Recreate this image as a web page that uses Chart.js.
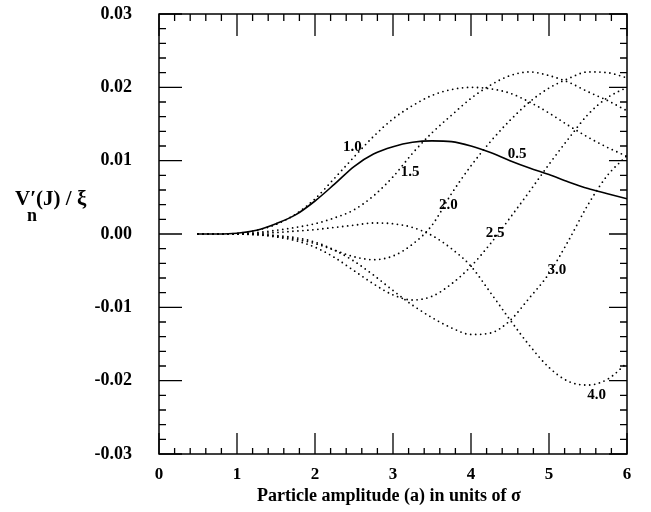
<!DOCTYPE html>
<html>
<head>
<meta charset="utf-8">
<script src="https://cdn.jsdelivr.net/npm/chart.js@4.4.1/dist/chart.umd.min.js"></script>
<style>
  html, body { margin: 0; padding: 0; background: #fff; }
  #graphique { display: block; }
</style>
</head>
<body>
<canvas id="graphique" width="651" height="512"></canvas>
<script>
// Amplitude (en sigma)
const amplitudes = [0.5, 0.75, 1, 1.25, 1.5, 1.75, 2, 2.25, 2.5, 2.75, 3, 3.25, 3.5, 3.75, 4, 4.25, 4.5, 4.75, 5, 5.25, 5.5, 5.75, 6];

// Courbes
const courbe05 = [0, 0, 0.0001, 0.0005, 0.0014, 0.0026, 0.0045, 0.0068, 0.0092, 0.0109, 0.0119, 0.0125, 0.0127, 0.0126, 0.0120, 0.0111, 0.0100, 0.0090, 0.0081, 0.0071, 0.0062, 0.0055, 0.0048];
const courbe10 = [0, 0, 0.0001, 0.0005, 0.0013, 0.0027, 0.0048, 0.0076, 0.0105, 0.0133, 0.0157, 0.0175, 0.0189, 0.0197, 0.0200, 0.0198, 0.0192, 0.0180, 0.0165, 0.0148, 0.0132, 0.0118, 0.0106];
const courbe15 = [0, 0, 0, 0.0002, 0.0005, 0.0009, 0.0014, 0.0022, 0.0033, 0.0052, 0.0078, 0.0110, 0.0138, 0.0162, 0.0185, 0.0203, 0.0216, 0.0221, 0.0216, 0.0207, 0.0194, 0.0182, 0.0168];
const courbe20 = [0, 0, 0, -0.0001, -0.0003, -0.0007, -0.0013, -0.0022, -0.0031, -0.0035, -0.0030, -0.0014, 0.0012, 0.0055, 0.0093, 0.0126, 0.0155, 0.0180, 0.0199, 0.0212, 0.0221, 0.0220, 0.0213];
const courbe25 = [0, 0, 0, -0.0001, -0.0004, -0.0009, -0.0018, -0.0032, -0.0050, -0.0068, -0.0083, -0.0090, -0.0085, -0.0068, -0.0044, -0.0013, 0.0022, 0.0058, 0.0095, 0.0130, 0.0163, 0.0186, 0.0200];
const courbe30 = [0, 0, 0, 0, -0.0002, -0.0005, -0.0011, -0.0022, -0.0037, -0.0056, -0.0077, -0.0097, -0.0114, -0.0128, -0.0137, -0.0135, -0.0118, -0.0087, -0.0054, -0.0009, 0.0040, 0.0080, 0.0107];
const courbe40 = [0, 0, 0, 0.0001, 0.0002, 0.0004, 0.0006, 0.0009, 0.0012, 0.0015, 0.0014, 0.0009, -0.0002, -0.0020, -0.0044, -0.0080, -0.0117, -0.0152, -0.0182, -0.0201, -0.0206, -0.0198, -0.0176];

// Graduations
const ticksX = [0, 1, 2, 3, 4, 5, 6];
const ticksY = [-0.03, -0.02, -0.01, 0, 0.01, 0.02, 0.03];

// Etiquettes des courbes (texte, amplitude, valeur)
const etiquettes = [
    ["1.0", 2.48, 0.0119],
    ["1.5", 3.22, 0.0085],
    ["0.5", 4.59, 0.0109],
    ["2.0", 3.71, 0.0040],
    ["2.5", 4.31, 0.0001],
    ["3.0", 5.10, -0.0049],
    ["4.0", 5.61, -0.0220],
];

const police = "'Liberation Serif', 'Times New Roman', serif";

function serie(valeurs, pointille) {
    return {
        data: amplitudes.map((a, i) => ({ x: a, y: valeurs[i] })),
        borderColor: "#000",
        borderWidth: pointille ? 1.8 : 1.6,
        borderDash: pointille ? [0, 5] : [],
        borderCapStyle: pointille ? "round" : "butt",
        pointRadius: 0,
        cubicInterpolationMode: "monotone",
        fill: false,
    };
}

// Cadre, graduations intérieures, titres et étiquettes
const decor = {
    id: "decor",
    afterDraw(chart) {
        const ctx = chart.ctx;
        const { left, right, top, bottom } = chart.chartArea;
        const sx = chart.scales.x;
        const sy = chart.scales.y;
        ctx.save();
        ctx.strokeStyle = "#000";
        ctx.lineWidth = 1.5;
        ctx.strokeRect(left, top, right - left, bottom - top);

        ctx.lineWidth = 1.3;
        ctx.beginPath();
        for (let i = 0; i <= 30; i++) {
            const px = sx.getPixelForValue(i * 0.2);
            const majeur = i % 5 === 0;
            ctx.moveTo(px, bottom);
            ctx.lineTo(px, bottom - (majeur ? 21 : 6));
            ctx.moveTo(px, top);
            ctx.lineTo(px, top + (majeur ? 22 : 7));
        }
        for (let i = 0; i <= 30; i++) {
            const py = sy.getPixelForValue(-0.03 + i * 0.002);
            const majeur = i % 5 === 0;
            ctx.moveTo(left, py);
            ctx.lineTo(left + (majeur ? 23 : 7), py);
            ctx.moveTo(right, py);
            ctx.lineTo(right - (majeur ? 18 : 7), py);
        }
        ctx.stroke();

        ctx.fillStyle = "#000";
        ctx.textBaseline = "middle";
        ctx.textAlign = "center";
        ctx.font = "bold 15px " + police;
        for (const [texte, a, v] of etiquettes) {
            ctx.fillText(texte, sx.getPixelForValue(a), sy.getPixelForValue(v));
        }

        // Titre de l'axe x
        ctx.font = "bold 18px " + police;
        ctx.fillText("Particle amplitude (a) in units of σ", 389, 496);

        // Titre de l'axe y : V'n(J) / ξ
        ctx.textAlign = "left";
        ctx.textBaseline = "alphabetic";
        ctx.font = "bold 21px " + police;
        ctx.fillText("V", 15, 205);
        const largeurV = ctx.measureText("V").width;
        ctx.fillText("′(J) / ξ", 15 + largeurV, 205);
        ctx.font = "bold 18px " + police;
        ctx.fillText("n", 27, 221);
        ctx.restore();
    }
};

const config = {
    type: "line",
    data: {
        datasets: [
            serie(courbe05, false),
            serie(courbe10, true),
            serie(courbe15, true),
            serie(courbe20, true),
            serie(courbe25, true),
            serie(courbe30, true),
            serie(courbe40, true),
        ],
    },
    options: {
        responsive: false,
        animation: false,
        layout: { padding: { top: 14, right: 24, left: 0, bottom: 0 } },
        plugins: {
            legend: { display: false },
            tooltip: { enabled: false },
        },
        scales: {
            x: {
                type: "linear",
                min: 0,
                max: 6,
                afterBuildTicks: (scale) => { scale.ticks = ticksX.map(v => ({ value: v })); },
                afterFit: (scale) => {
                    scale.height = 58;
                    scale.paddingLeft = 0;
                    scale.paddingRight = 0;
                },
                grid: { display: false, drawTicks: false },
                border: { display: false },
                ticks: {
                    color: "#000",
                    padding: 10,
                    font: { family: police, size: 17, weight: "bold" },
                    maxRotation: 0,
                },
            },
            y: {
                type: "linear",
                min: -0.03,
                max: 0.03,
                afterBuildTicks: (scale) => { scale.ticks = ticksY.map(v => ({ value: v })); },
                afterFit: (scale) => {
                    scale.width = 159;
                    scale.paddingTop = 0;
                    scale.paddingBottom = 0;
                },
                grid: { display: false, drawTicks: false },
                border: { display: false },
                ticks: {
                    color: "#000",
                    padding: 27,
                    font: { family: police, size: 18, weight: "bold" },
                    callback: (v) => v.toFixed(2),
                },
            },
        },
    },
    plugins: [decor],
};

new Chart(document.querySelector("#graphique"), config);
</script>
</body>
</html>
